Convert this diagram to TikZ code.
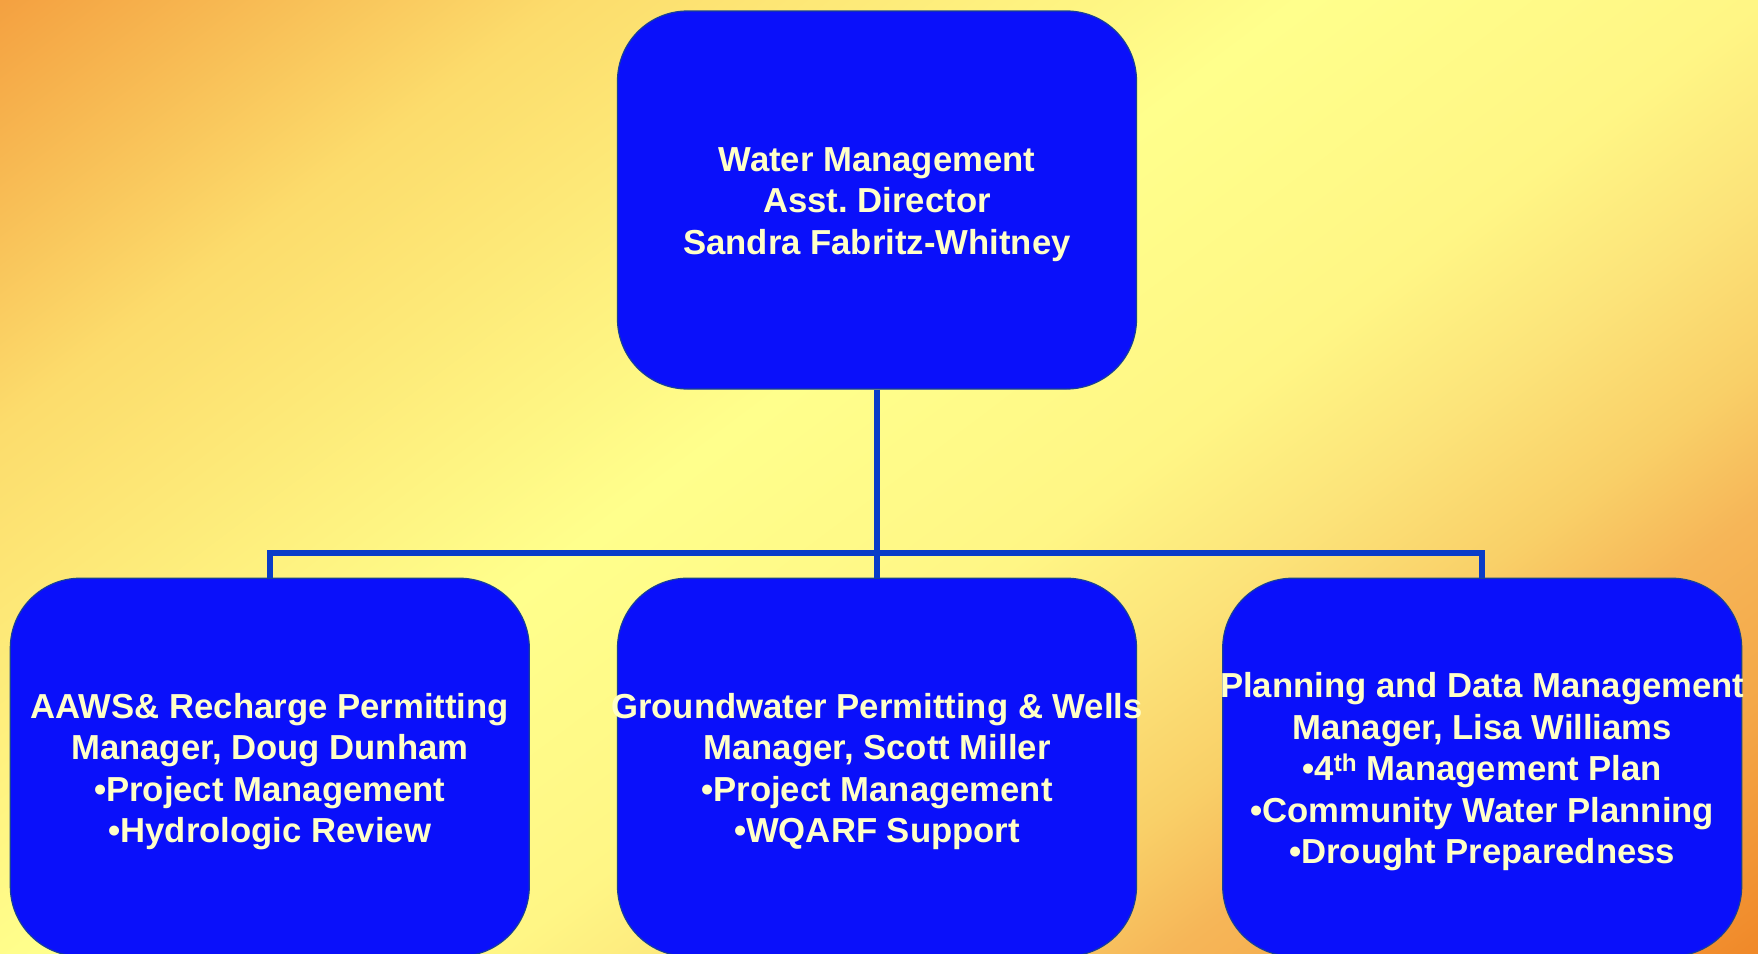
\documentclass[tikz,border=0pt]{standalone}
\usepackage{fontspec}
\setmainfont{Liberation Sans}
\usetikzlibrary{positioning}

\definecolor{boxblue}{RGB}{10,16,250}
\definecolor{boxedge}{RGB}{24,64,150}
\definecolor{linkblue}{RGB}{10,60,200}
\definecolor{textyellow}{RGB}{255,255,200}
\definecolor{bgorange}{HTML}{F4A040}
\definecolor{bgwarm}{HTML}{FCDC6C}
\definecolor{bgyellow}{HTML}{FFFF8C}
\definecolor{bgpale}{HTML}{FFF685}
\definecolor{bglight}{HTML}{FCE47A}
\definecolor{bgsand}{HTML}{F9D068}
\definecolor{bghot}{HTML}{F6B658}
\definecolor{bgamber}{HTML}{F4A848}
\definecolor{bgdeep}{HTML}{F08828}

\pgfdeclarehorizontalshading{slide}{100bp}{color(0bp)=(bgorange); color(24bp)=(bgorange); color(33.8bp)=(bgwarm); color(46.4bp)=(bgyellow); color(54.3bp)=(bgpale); color(58.4bp)=(bglight); color(62.5bp)=(bgsand); color(65.8bp)=(bghot); color(70.1bp)=(bgamber); color(76bp)=(bgdeep); color(100bp)=(bgdeep)}

\begin{document}
\begin{tikzpicture}[x=1pt,y=-1pt,
  unit/.style = {draw=boxedge, line width=1.2pt, fill=boxblue, rounded corners=70pt,
                 minimum width=519pt, minimum height=378pt, inner sep=0pt},
  unittext/.style = {text=textyellow, font=\bfseries\fontsize{34.7}{41.5}\selectfont,
                     align=center, yshift=-4.5pt},
  link/.style = {draw=linkblue, line width=6pt}]
\useasboundingbox (0,0) rectangle (1758,953);
\begin{scope}
\clip (0,0) rectangle (1758,953);
\shade[shading=slide, shading angle=-53] (0,-402.5) rectangle (1758,1355.5);
\end{scope}

\node[unit] (director) at (877,200) {};
\node[unit] (wells) [below=188pt of director] {};
\node[unit] (aaws) [left=87pt of wells] {};
\node[unit] (planning) [right=85pt of wells] {};

\node[unittext] (directortext) at (director) {Water Management\\Asst.\ Director\\Sandra Fabritz-Whitney};
\node[unittext] (aawstext) at (aaws) {AAWS\& Recharge Permitting\\Manager, Doug Dunham\\•Project Management\\•Hydrologic Review};
\node[unittext] (wellstext) at (wells) {Groundwater Permitting \& Wells\\Manager, Scott Miller\\•Project Management\\•WQARF Support};
\node[unittext] (planningtext) at (planning) {Planning and Data Management\\Manager, Lisa Williams\\•4\textsuperscript{th} Management Plan\\•Community Water Planning\\•Drought Preparedness};

\coordinate (bus) at (877,553);
\draw[link] (director) -- (bus);
\draw[link] (aaws.north) |- (bus) -| (planning.north);
\draw[link] (bus) -- (wells.north);
\end{tikzpicture}
\end{document}
